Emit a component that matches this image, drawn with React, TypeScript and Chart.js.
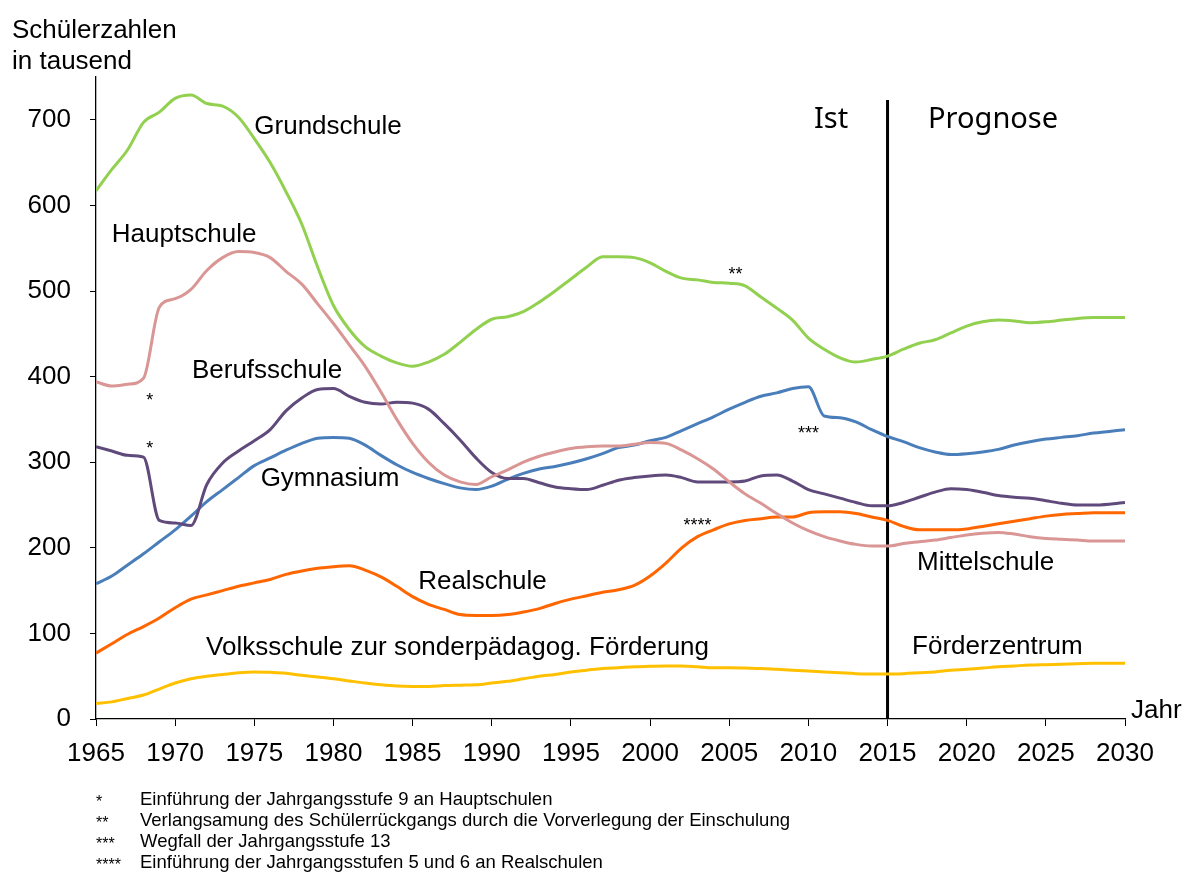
import React, { useEffect, useRef } from "react";
import { Chart, registerables } from "chart.js";

Chart.register(...registerables);

const years = [
  1965, 1966, 1967, 1968, 1969, 1970, 1971, 1972, 1973, 1974,
  1975, 1976, 1977, 1978, 1979, 1980, 1981, 1982, 1983, 1984,
  1985, 1986, 1987, 1988, 1989, 1990, 1991, 1992, 1993, 1994,
  1995, 1996, 1997, 1998, 1999, 2000, 2001, 2002, 2003, 2004,
  2005, 2006, 2007, 2008, 2009, 2010, 2011, 2012, 2013, 2014,
  2015, 2016, 2017, 2018, 2019, 2020, 2021, 2022, 2023, 2024,
  2025, 2026, 2027, 2028, 2029, 2030,
];

const grundschule = [
  617, 642, 665, 697, 709, 725, 729, 719, 716, 703,
  678, 650, 616, 578, 528, 483, 455, 435, 424, 416,
  412, 417, 426, 440, 455, 467, 470, 476, 487, 500,
  514, 528, 540, 540, 539, 533, 523, 515, 513, 510,
  509, 506, 493, 480, 466, 445, 432, 422, 417, 420,
  424, 432, 439, 443, 451, 459, 464, 466, 465, 463,
  464, 466, 468, 469, 469, 469,
];

const hauptschule = [
  394, 389, 391, 398, 481, 491, 502, 524, 539, 546,
  545, 539, 523, 508, 485, 462, 437, 412, 382, 350,
  322, 300, 285, 277, 274, 283, 291, 300, 307, 312,
  316, 318, 319, 319, 321, 323, 322, 314, 304, 292,
  277, 263, 252, 240, 229, 220, 213, 208, 204, 202,
  202, 205, 207, 209, 212, 215, 217, 218, 216, 213,
  211, 210, 209, 208, 208, 208,
];

const berufsschule = [
  318, 313, 308, 306, 232, 229, 226, 274, 299, 313,
  325, 338, 360, 375, 385, 386, 377, 370, 368, 370,
  369, 362, 345, 326, 305, 288, 281, 281, 276, 271,
  269, 268, 273, 279, 282, 284, 285, 282, 277, 277,
  277, 278, 284, 285, 278, 268, 263, 258, 253, 249,
  249, 253, 259, 265, 269, 268, 265, 261, 259, 258,
  255, 252, 250, 250, 251, 253,
];

const gymnasium = [
  158, 167, 180, 193, 207, 221, 237, 254, 268, 282,
  296, 305, 314, 322, 328, 329, 328, 320, 308, 297,
  288, 281, 275, 270, 268, 272, 280, 287, 292, 295,
  299, 304, 310, 317, 320, 325, 329, 337, 345, 353,
  362, 370, 377, 381, 386, 388, 354, 352, 347, 338,
  330, 324, 317, 312, 309, 310, 312, 315, 320, 324,
  327, 329, 331, 334, 336, 338,
];

const realschule = [
  77, 88, 99, 108, 118, 130, 140, 145, 150, 155,
  159, 163, 169, 173, 176, 178, 179, 174, 166, 155,
  143, 134, 128, 122, 121, 121, 122, 125, 129, 135,
  140, 144, 148, 151, 156, 167, 182, 200, 213, 221,
  228, 232, 234, 236, 236, 241, 242, 242, 240, 236,
  232, 225, 221, 221, 221, 222, 225, 228, 231, 234,
  237, 239, 240, 241, 241, 241,
];

const foerderschule = [
  18, 20, 24, 28, 35, 42, 47, 50, 52, 54,
  55, 54.5, 53.5, 51, 49, 47, 44.5, 42, 40, 38.5,
  38, 38, 39, 39.5, 40, 42, 44, 47, 50, 52,
  55, 57, 59, 60, 61, 61.5, 62, 62, 61, 60,
  60, 59.5, 59, 58, 57, 56, 55, 54, 53, 52.5,
  52.5, 53, 54, 55, 57, 58, 59.5, 61, 62, 63,
  63.5, 64, 64.5, 65, 65, 65,
];

const dividerYear = 2015;
const dividerTop = 723;

const xTickStep = 5;
const yTickStep = 100;

// Text annotations anchored in data space: [text, year, value]
const seriesLabels: [string, number, number][] = [
  ["Grundschule", 1975.0, 692],
  ["Hauptschule", 1966.0, 566],
  ["Berufsschule", 1971.06, 407],
  ["Gymnasium", 1975.4, 281],
  ["Realschule", 1985.35, 160],
  ["Volksschule zur sonderpädagog. Förderung", 1971.95, 83],
  ["Mittelschule", 2016.86, 183],
  ["Förderzentrum", 2016.55, 84],
];

const periodLabels: [string, number, number][] = [
  ["Ist", 2010.35, 700],
  ["Prognose", 2017.56, 700],
];

const starLabels: [string, number, number][] = [
  ["*", 1968.4, 376],
  ["*", 1968.4, 320],
  ["**", 2005.4, 523],
  ["***", 2010.0, 337],
  ["****", 2003.0, 230],
];

const footnoteMarks = ["*", "**", "***", "****"];
const footnoteTexts = [
  "Einführung der Jahrgangsstufe 9 an Hauptschulen",
  "Verlangsamung des Schülerrückgangs durch die Vorverlegung der Einschulung",
  "Wegfall der Jahrgangsstufe 13",
  "Einführung der Jahrgangsstufen 5 und 6 an Realschulen",
];

const FONT = '"Liberation Sans", Arial, sans-serif';

function toPoints(vals: number[]) {
  return years.map((y, i) => ({ x: y, y: vals[i] }));
}

const annotationPlugin = {
  id: "annotations",
  afterDraw(chart: any) {
    const ctx = chart.ctx as CanvasRenderingContext2D;
    const xs = chart.scales.x;
    const ys = chart.scales.y;
    ctx.save();
    ctx.fillStyle = "#000";
    ctx.textBaseline = "middle";
    ctx.textAlign = "left";
    ctx.font = `26px ${FONT}`;
    for (const [t, yr, v] of seriesLabels) {
      ctx.fillText(t, xs.getPixelForValue(yr), ys.getPixelForValue(v));
    }
    ctx.font = `29px "Noto Sans", "Open Sans", sans-serif`;
    for (const [t, yr, v] of periodLabels) {
      ctx.fillText(t, xs.getPixelForValue(yr), ys.getPixelForValue(v));
    }
    ctx.font = `18px ${FONT}`;
    ctx.textAlign = "center";
    for (const [t, yr, v] of starLabels) {
      ctx.fillText(t, xs.getPixelForValue(yr), ys.getPixelForValue(v) + 4);
    }
    // axis titles
    ctx.textAlign = "left";
    ctx.font = `26px ${FONT}`;
    ctx.fillText("Schülerzahlen", 12, 31);
    ctx.fillText("in tausend", 12, 62);
    ctx.fillText("Jahr", xs.right + 6, ys.bottom - 8);
    // footnotes
    const lineY = [800, 821, 842, 863];
    for (let i = 0; i < footnoteTexts.length; i++) {
      ctx.font = `16px ${FONT}`;
      ctx.fillText(footnoteMarks[i], 96, lineY[i] + 3);
      ctx.font = `18.5px ${FONT}`;
      ctx.fillText(footnoteTexts[i], 140, lineY[i]);
    }
    ctx.restore();
  },
};

export default function App() {
  const ref = useRef<HTMLCanvasElement | null>(null);
  useEffect(() => {
    if (!ref.current) return;
    const mk = (label: string, vals: number[], color: string) => ({
      label,
      data: toPoints(vals),
      borderColor: color,
      backgroundColor: color,
      borderWidth: 3,
      pointRadius: 0,
      cubicInterpolationMode: "monotone" as const,
      fill: false,
    });
    const chart = new Chart(ref.current, {
      type: "line",
      data: {
        datasets: [
          mk("Grundschule", grundschule, "#92D050"),
          mk("Hauptschule / Mittelschule", hauptschule, "#D99694"),
          mk("Berufsschule", berufsschule, "#604A7B"),
          mk("Gymnasium", gymnasium, "#4A7EBB"),
          mk("Realschule", realschule, "#FF6600"),
          mk("Förderschule", foerderschule, "#FFC000"),
          {
            label: "Ist / Prognose",
            data: [
              { x: dividerYear, y: 0 },
              { x: dividerYear, y: dividerTop },
            ],
            borderColor: "#000",
            borderWidth: 3,
            pointRadius: 0,
            fill: false,
          },
        ],
      },
      options: {
        responsive: false,
        animation: false,
        layout: { padding: { left: 0, top: 77, right: 57, bottom: 0 } },
        plugins: { legend: { display: false }, tooltip: { enabled: false } },
        scales: {
          x: {
            type: "linear",
            min: 1965,
            max: 2030,
            afterFit: (s: any) => {
              s.height = 156;
            },
            ticks: {
              stepSize: xTickStep,
              color: "#000",
              padding: 12,
              maxRotation: 0,
              font: { family: FONT, size: 26 },
              callback: (v: any) => String(v),
            },
            grid: {
              display: true,
              drawOnChartArea: false,
              drawTicks: true,
              tickLength: 7,
              color: "#000",
              lineWidth: 1,
            },
            border: { display: true, color: "#000", width: 1.3 },
          },
          y: {
            type: "linear",
            min: 0,
            max: 750,
            afterFit: (s: any) => {
              s.width = 96;
            },
            afterBuildTicks: (s: any) => {
              s.ticks = s.ticks.filter((t: any) => t.value % yTickStep === 0);
            },
            ticks: {
              stepSize: yTickStep,
              color: "#000",
              padding: 19,
              font: { family: FONT, size: 26 },
              callback: (v: any) => String(v),
            },
            grid: {
              display: true,
              drawOnChartArea: false,
              drawTicks: true,
              tickLength: 6,
              color: "#000",
              lineWidth: 1,
            },
            border: { display: true, color: "#000", width: 1.3 },
          },
        },
      },
      plugins: [annotationPlugin],
    });
    return () => chart.destroy();
  }, []);
  return (
    <div
      style={{
        position: "fixed",
        left: 0,
        top: 0,
        width: 1182,
        height: 875,
        background: "#fff",
      }}
    >
      <canvas ref={ref} width={1182} height={875} />
    </div>
  );
}
